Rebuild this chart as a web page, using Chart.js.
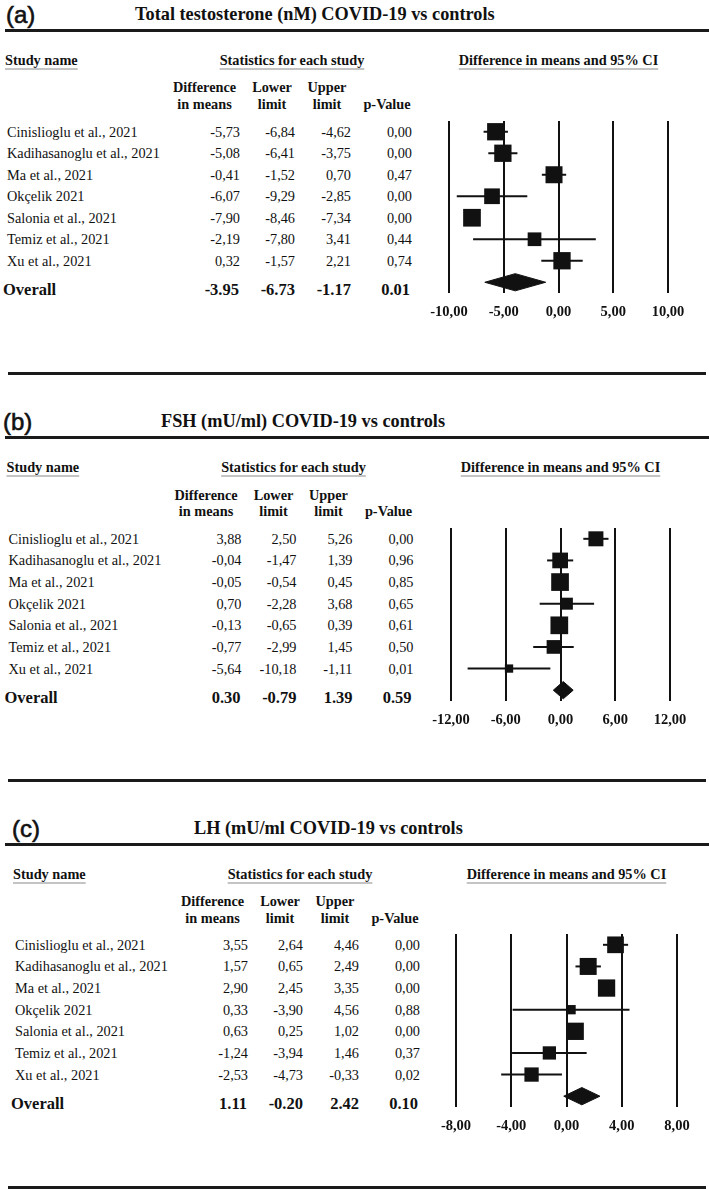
<!DOCTYPE html>
<html><head><meta charset="utf-8">
<script src="https://cdn.jsdelivr.net/npm/chart.js@4.4.0/dist/chart.umd.min.js"></script>
<style>
html,body{margin:0;padding:0;background:#fff;}
#page{position:relative;width:709px;height:1190px;overflow:hidden;background:#fff;font-family:"Liberation Serif","Times New Roman",serif;color:#111;}
.t{position:absolute;white-space:nowrap;line-height:20px;height:20px;}
.lbl{-webkit-text-stroke:0.6px #111;}
.rule{position:absolute;height:3px;background:#1a1a1a;}
canvas{position:absolute;}
</style></head><body><div id="page"></div>
<script>
// ---------- DATA ----------
const studyNames = ["Cinislioglu et al., 2021","Kadihasanoglu et al., 2021","Ma et al., 2021","Okçelik 2021","Salonia et al., 2021","Temiz et al., 2021","Xu et al., 2021"];
const titles = ["Total testosterone (nM) COVID-19 vs controls","FSH (mU/ml) COVID-19 vs controls","LH (mU/ml COVID-19 vs controls"];
const panelLabels = ["(a)","(b)","(c)"];

// (a) Total testosterone
const diffA   = [-5.73,-5.08,-0.41,-6.07,-7.90,-2.19,0.32];
const lowerA  = [-6.84,-6.41,-1.52,-9.29,-8.46,-7.80,-1.57];
const upperA  = [-4.62,-3.75,0.70,-2.85,-7.34,3.41,2.21];
const pA      = [0.00,0.00,0.47,0.00,0.00,0.44,0.74];
const weightA = [17.3,17.3,17.0,15.7,17.7,13.7,17.3];   // relative study weight (box size)
const overallA = [-3.95,-6.73,-1.17,0.01];               // diff, lower, upper, p
const ticksA  = [-10,-5,0,5,10];

// (b) FSH
const diffB   = [3.88,-0.04,-0.05,0.70,-0.13,-0.77,-5.64];
const lowerB  = [2.50,-1.47,-0.54,-2.28,-0.65,-2.99,-10.18];
const upperB  = [5.26,1.39,0.45,3.68,0.39,1.45,-1.11];
const pB      = [0.00,0.96,0.85,0.65,0.61,0.50,0.01];
const weightB = [15.0,15.7,17.7,12.0,17.7,13.7,8.3];
const overallB = [0.30,-0.79,1.39,0.59];
const ticksB  = [-12,-6,0,6,12];

// (c) LH
const diffC   = [3.55,1.57,2.90,0.33,0.63,-1.24,-2.53];
const lowerC  = [2.64,0.65,2.45,-3.90,0.25,-3.94,-4.73];
const upperC  = [4.46,2.49,3.35,4.56,1.02,1.46,-0.33];
const pC      = [0.00,0.00,0.00,0.88,0.00,0.37,0.02];
const weightC = [16.7,17.0,17.3,9.3,17.3,13.3,14.3];
const overallC = [1.11,-0.20,2.42,0.10];
const ticksC  = [-8,-4,0,4,8];

// ---------- LAYOUT ----------
const panels = [
  {data:{diff:diffA,lower:lowerA,upper:upperA,p:pA,w:weightA,ov:overallA,ticks:ticksA}, labelX:6,  titleX:135, Y:0,     X:0,   plot:[449,668,121,293]},
  {data:{diff:diffB,lower:lowerB,upper:upperB,p:pB,w:weightB,ov:overallB,ticks:ticksB}, labelX:3,  titleX:161, Y:407.3, X:1.5, plot:[451,670,528,701]},
  {data:{diff:diffC,lower:lowerC,upper:upperC,p:pC,w:weightC,ov:overallC,ticks:ticksC}, labelX:12, titleX:194, Y:813.7, X:8,   plot:[456,677,934,1107]}
];
const sepRules = [372, 779, 1186];

const page = document.getElementById('page');
const fmtC = v => v.toFixed(2).replace('.', ',');
const fmtP = v => v.toFixed(2);

function txt(s, o) {
  const d = document.createElement('div');
  d.className = 't' + (o.cls ? ' ' + o.cls : '');
  d.textContent = s;
  const size = o.size || 14.3;
  d.style.fontSize = size + 'px';
  d.style.fontWeight = o.bold ? 'bold' : 'normal';
  if (o.family) d.style.fontFamily = o.family;
  if (o.lh) { d.style.lineHeight = o.lh + 'px'; d.style.height = o.lh + 'px'; }
  const lh = o.lh || 20;
  d.style.top = (o.cy - lh / 2) + 'px';
  if (o.left != null) d.style.left = o.left + 'px';
  else if (o.right != null) { d.style.left = (o.right - 200) + 'px'; d.style.width = '200px'; d.style.textAlign = 'right'; }
  else { d.style.left = (o.center - 200) + 'px'; d.style.width = '400px'; d.style.textAlign = 'center'; }
  if (o.underline) {
    d.style.textDecoration = 'underline';
    d.style.textDecorationColor = '#c4c4c4';
    d.style.textDecorationThickness = '2px';
    d.style.textUnderlineOffset = '3px';
  }
  page.appendChild(d);
}
function rule(top, left, right) {
  const r = document.createElement('div');
  r.className = 'rule';
  r.style.top = top + 'px'; r.style.left = left + 'px'; r.style.width = (right - left) + 'px';
  page.appendChild(r);
}

sepRules.forEach(y => rule(y, 8, 706));

panels.forEach((P, pi) => {
  const {Y, X} = P;
  const [pl, pr, pt, pb] = P.plot;
  const D = P.data;
  const rowH = (pb - pt) / 8;
  const rowY = k => pt + (k + 0.5) * rowH;

  txt(panelLabels[pi], {left: P.labelX, cy: 15 + Y, size: 24, family: '"Liberation Sans", Arial, sans-serif', lh: 28, cls: 'lbl'});
  txt(titles[pi], {left: P.titleX, cy: 14 + Y, size: 18.3, bold: true, lh: 22});
  rule(29 + Y, 5, 709);

  txt("Study name", {left: 5 + X, cy: 60 + Y, bold: true, underline: true});
  txt("Statistics for each study", {center: 292 + X, cy: 60 + Y, bold: true, underline: true});
  txt("Difference in means and 95% CI", {center: (pl + pr) / 2, cy: 60 + Y, bold: true, underline: true});

  txt("Difference", {center: 204.5 + X, cy: 87.4 + Y, bold: true});
  txt("in means",   {center: 204.5 + X, cy: 104 + Y, bold: true});
  txt("Lower",      {center: 272 + X, cy: 87.4 + Y, bold: true});
  txt("limit",      {center: 272 + X, cy: 104 + Y, bold: true});
  txt("Upper",      {center: 327 + X, cy: 87.4 + Y, bold: true});
  txt("limit",      {center: 327 + X, cy: 104 + Y, bold: true});
  txt("p-Value",    {center: 387 + X, cy: 104 + Y, bold: true});

  studyNames.forEach((n, k) => {
    const cy = rowY(k);
    txt(n, {left: 7 + X, cy});
    txt(fmtC(D.diff[k]),  {right: 240 + X, cy});
    txt(fmtC(D.lower[k]), {right: 295 + X, cy});
    txt(fmtC(D.upper[k]), {right: 351 + X, cy});
    txt(fmtC(D.p[k]),     {right: 412 + X, cy});
  });
  const ocy = rowY(7) + 8;
  txt("Overall", {left: 3 + X, cy: ocy, size: 16.5, bold: true});
  txt(fmtP(D.ov[0]), {right: 239 + X, cy: ocy, size: 16.5, bold: true});
  txt(fmtP(D.ov[1]), {right: 295 + X, cy: ocy, size: 16.5, bold: true});
  txt(fmtP(D.ov[2]), {right: 351 + X, cy: ocy, size: 16.5, bold: true});
  txt(fmtP(D.ov[3]), {right: 410 + X, cy: ocy, size: 16.5, bold: true});

  // ---- chart ----
  const padL = 30, padR = 30, padT = 4, axisH = 36;
  const cv = document.createElement('canvas');
  cv.width = (pr - pl) + padL + padR;
  cv.height = (pb - pt) + padT + axisH;
  cv.style.left = (pl - padL) + 'px';
  cv.style.top = (pt - padT) + 'px';
  cv.style.width = cv.width + 'px';
  cv.style.height = cv.height + 'px';
  page.appendChild(cv);

  const ink = '#111';
  const datasets = [];
  D.diff.forEach((d, k) => {
    datasets.push({data: [{x: D.lower[k], y: k}, {x: D.upper[k], y: k}], showLine: true,
      borderColor: ink, borderWidth: 2, pointRadius: 0, fill: false, order: 2});
  });
  datasets.push({data: D.diff.map((d, k) => ({x: d, y: k})), showLine: false, pointStyle: 'rect',
    pointRadius: D.w.map(w => w / Math.SQRT2), backgroundColor: ink, borderWidth: 0, order: 1});
  const [oe, ol, ou] = D.ov;
  datasets.push({data: [{x: ol, y: 7}, {x: oe, y: 6.6}, {x: ou, y: 7}, {x: oe, y: 7.4}, {x: ol, y: 7}],
    showLine: true, fill: 'shape', backgroundColor: ink, borderColor: ink, borderWidth: 1, pointRadius: 0, order: 0});

  const tk = D.ticks;
  new Chart(cv, {
    type: 'scatter',
    data: {datasets},
    options: {
      responsive: false, animation: false, devicePixelRatio: 1,
      layout: {autoPadding: false, padding: {left: padL, right: padR, top: padT, bottom: 0}},
      plugins: {legend: {display: false}, tooltip: {enabled: false}},
      scales: {
        x: {type: 'linear', min: tk[0], max: tk[tk.length - 1],
          afterBuildTicks: s => { s.ticks = tk.map(v => ({value: v})); },
          afterFit: s => { s.height = axisH; },
          grid: {color: ink, lineWidth: 2, drawTicks: false},
          border: {display: false},
          ticks: {autoSkip: false, maxRotation: 0, padding: 11, color: ink,
            font: {family: '"Liberation Serif", "Times New Roman", serif', size: 14.5, weight: 'bold'},
            callback: v => fmtC(v)}
        },
        y: {type: 'linear', min: -0.5, max: 7.5, reverse: true, display: false}
      }
    }
  });
});
</script></body></html>
